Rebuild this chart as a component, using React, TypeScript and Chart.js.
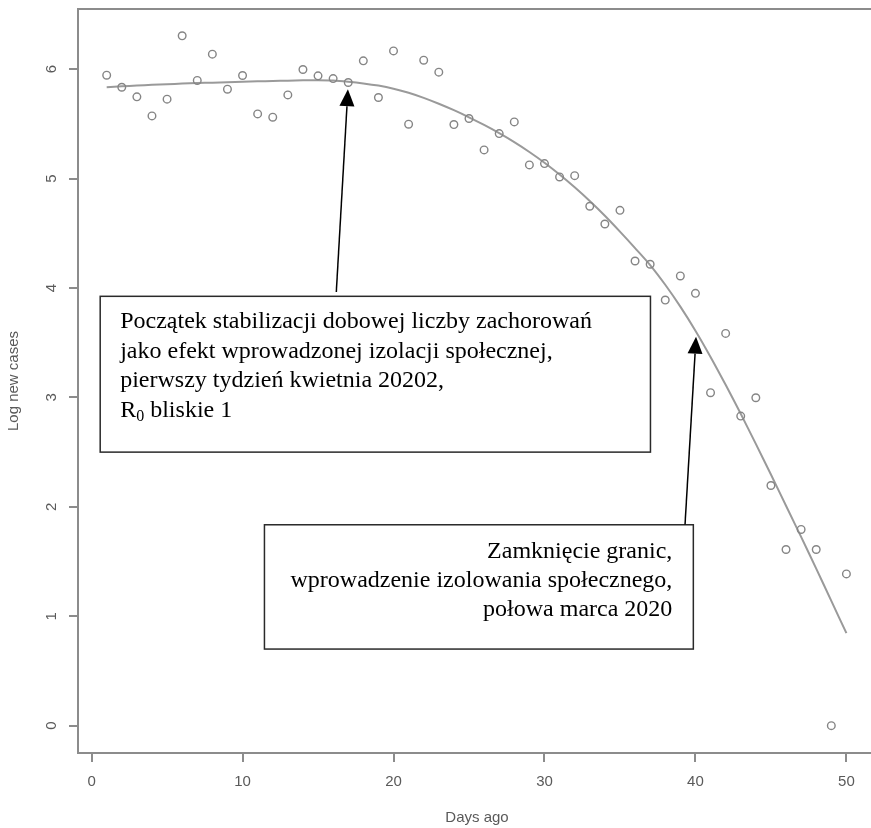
import React, { useEffect, useRef } from "react";
import { Chart, registerables } from "chart.js";

Chart.register(...registerables);

// ---------- data ----------
const DAYS = [
  1, 2, 3, 4, 5, 6, 7, 8, 9, 10, 11, 12, 13, 14, 15, 16, 17, 18, 19, 20, 21, 22, 23, 24, 25,
  26, 27, 28, 29, 30, 31, 32, 33, 34, 35, 36, 37, 38, 39, 40, 41, 42, 43, 44, 45, 46, 47, 48, 49, 50,
];

const LOG_NEW_CASES = [
  5.945, 5.835, 5.747, 5.573, 5.726, 6.305, 5.897, 6.137, 5.817, 5.942,
  5.591, 5.561, 5.765, 5.997, 5.939, 5.914, 5.878, 6.076, 5.741, 6.167,
  5.497, 6.082, 5.973, 5.494, 5.549, 5.262, 5.411, 5.518, 5.125, 5.137,
  5.015, 5.027, 4.747, 4.585, 4.71, 4.247, 4.217, 3.89, 4.11, 3.951,
  3.043, 3.585, 2.829, 2.997, 2.195, 1.61, 1.793, 1.61, 0.0, 1.387,
];

const FITTED = [
  5.835, 5.843, 5.85, 5.857, 5.863, 5.868, 5.873, 5.877, 5.881, 5.885,
  5.889, 5.892, 5.895, 5.898, 5.899, 5.896, 5.885, 5.87, 5.85, 5.822,
  5.785, 5.738, 5.684, 5.625, 5.56, 5.49, 5.415, 5.333, 5.243, 5.145,
  5.037, 4.92, 4.795, 4.66, 4.515, 4.365, 4.21, 4.03, 3.83, 3.61,
  3.37, 3.115, 2.85, 2.575, 2.295, 2.01, 1.725, 1.435, 1.14, 0.845,
];

const X_TICKS = [0, 10, 20, 30, 40, 50];
const Y_TICKS = [0, 1, 2, 3, 4, 5, 6];
const X_TITLE = "Days ago";
const Y_TITLE = "Log new cases";

const NOTE_1_LINES = [
  "Początek stabilizacji dobowej liczby zachorowań",
  "jako efekt wprowadzonej izolacji społecznej,",
  "pierwszy tydzień kwietnia 20202,",
];
const NOTE_1_LAST = { main: "R", sub: "0", rest: " bliskie 1" };
const NOTE_2_LINES = [
  "Zamknięcie granic,",
  "wprowadzenie izolowania społecznego,",
  "połowa marca 2020",
];

// annotation anchors in data coordinates
const NOTE_1_BOX = { x0: 0.57, x1: 37.02, yTop: 3.924, yBottom: 2.5 };
const NOTE_2_BOX = { x0: 11.45, x1: 39.86, yTop: 1.836, yBottom: 0.7 };
const ARROW_1 = { fromX: 16.21, fromY: 3.963, toX: 16.98, toY: 5.817 };
const ARROW_2 = { fromX: 39.31, fromY: 1.838, toX: 40.04, toY: 3.555 };

// ---------- styles ----------
const AXIS_GREY = "#8c8c8c";
const LABEL_GREY = "#5a5a5a";
const SANS = '"Liberation Sans", Arial, sans-serif';
const SERIF = '"Liberation Serif", "Times New Roman", serif';

function drawArrow(ctx: CanvasRenderingContext2D, x1: number, y1: number, x2: number, y2: number) {
  const ang = Math.atan2(y2 - y1, x2 - x1);
  const headLen = 17;
  const halfW = 7.5;
  const bx = x2 - headLen * Math.cos(ang);
  const by = y2 - headLen * Math.sin(ang);
  ctx.strokeStyle = "#000";
  ctx.lineWidth = 1.5;
  ctx.beginPath();
  ctx.moveTo(x1, y1);
  ctx.lineTo(bx, by);
  ctx.stroke();
  ctx.fillStyle = "#000";
  ctx.beginPath();
  ctx.moveTo(x2, y2);
  ctx.lineTo(bx + halfW * Math.sin(ang), by - halfW * Math.cos(ang));
  ctx.lineTo(bx - halfW * Math.sin(ang), by + halfW * Math.cos(ang));
  ctx.closePath();
  ctx.fill();
}

const notesPlugin = {
  id: "notes",
  afterDraw(chart: any) {
    const { ctx, chartArea } = chart;
    const xs = chart.scales.x;
    const ys = chart.scales.y;
    ctx.save();
    // plot frame
    ctx.strokeStyle = AXIS_GREY;
    ctx.lineWidth = 2;
    ctx.strokeRect(chartArea.left, chartArea.top, chartArea.right - chartArea.left, chartArea.bottom - chartArea.top);

    // boxes
    const box = (b: any) => {
      const l = xs.getPixelForValue(b.x0);
      const r = xs.getPixelForValue(b.x1);
      const t = ys.getPixelForValue(b.yTop);
      const bt = ys.getPixelForValue(b.yBottom);
      ctx.fillStyle = "#fff";
      ctx.fillRect(l, t, r - l, bt - t);
      ctx.strokeStyle = "#2a2a2a";
      ctx.lineWidth = 1.5;
      ctx.strokeRect(l, t, r - l, bt - t);
      return { l, r, t, bt };
    };
    const b1 = box(NOTE_1_BOX);
    const b2 = box(NOTE_2_BOX);

    ctx.fillStyle = "#000";
    ctx.font = `24px ${SERIF}`;
    ctx.textBaseline = "alphabetic";
    ctx.textAlign = "left";
    NOTE_1_LINES.forEach((line, i) => {
      ctx.fillText(line, b1.l + 20, b1.t + 32 + i * 29.4);
    });
    const y4 = b1.t + 32 + 3 * 29.4;
    let cx = b1.l + 20;
    ctx.fillText(NOTE_1_LAST.main, cx, y4);
    cx += ctx.measureText(NOTE_1_LAST.main).width;
    ctx.font = `16px ${SERIF}`;
    ctx.fillText(NOTE_1_LAST.sub, cx, y4 + 4);
    cx += ctx.measureText(NOTE_1_LAST.sub).width;
    ctx.font = `24px ${SERIF}`;
    ctx.fillText(NOTE_1_LAST.rest, cx, y4);

    ctx.textAlign = "right";
    NOTE_2_LINES.forEach((line, i) => {
      ctx.fillText(line, b2.r - 21, b2.t + 33 + i * 29.3);
    });

    drawArrow(ctx, xs.getPixelForValue(ARROW_1.fromX), ys.getPixelForValue(ARROW_1.fromY),
      xs.getPixelForValue(ARROW_1.toX), ys.getPixelForValue(ARROW_1.toY));
    drawArrow(ctx, xs.getPixelForValue(ARROW_2.fromX), ys.getPixelForValue(ARROW_2.fromY),
      xs.getPixelForValue(ARROW_2.toX), ys.getPixelForValue(ARROW_2.toY));
    ctx.restore();
  },
};

export default function App() {
  const ref = useRef<HTMLCanvasElement | null>(null);

  useEffect(() => {
    if (!ref.current) return;
    const points = DAYS.map((d, i) => ({ x: d, y: LOG_NEW_CASES[i] }));
    const fit = DAYS.map((d, i) => ({ x: d, y: FITTED[i] }));
    const tickFont = { family: SANS, size: 15 };
    const chart = new Chart(ref.current, {
      type: "scatter",
      data: {
        datasets: [
          {
            label: "observed",
            data: points,
            showLine: false,
            pointStyle: "circle",
            pointRadius: 3.8,
            pointBorderWidth: 1.4,
            pointBorderColor: "#858585",
            pointBackgroundColor: "rgba(0,0,0,0)",
          },
          {
            label: "fit",
            data: fit,
            showLine: true,
            pointRadius: 0,
            borderColor: "#9a9a9a",
            borderWidth: 2,
            tension: 0.3,
            fill: false,
          },
        ],
      },
      options: {
        responsive: false,
        animation: false,
        layout: { padding: { top: 9, right: 9, left: 0, bottom: 0 } },
        plugins: { legend: { display: false }, tooltip: { enabled: false } },
        scales: {
          x: {
            type: "linear",
            min: -0.9,
            max: 51.96,
            afterBuildTicks: (s: any) => {
              s.ticks = X_TICKS.map((value) => ({ value }));
            },
            afterFit: (s: any) => {
              s.height = 75;
              s.paddingLeft = 0;
              s.paddingRight = 0;
            },
            grid: { drawOnChartArea: false, drawTicks: true, tickLength: 9, color: AXIS_GREY, lineWidth: 2 },
            border: { display: false },
            ticks: { color: LABEL_GREY, font: tickFont, padding: 11, maxRotation: 0, autoSkip: false },
            title: { display: true, text: X_TITLE, color: LABEL_GREY, font: tickFont, padding: { top: 0, bottom: 1 } },
          },
          y: {
            type: "linear",
            min: -0.25,
            max: 6.55,
            afterBuildTicks: (s: any) => {
              s.ticks = Y_TICKS.map((value) => ({ value }));
            },
            afterFit: (s: any) => {
              s.width = 78;
              s.paddingTop = 0;
              s.paddingBottom = 0;
            },
            grid: { drawOnChartArea: false, drawTicks: true, tickLength: 9, color: AXIS_GREY, lineWidth: 2 },
            border: { display: false },
            ticks: {
              color: LABEL_GREY,
              font: tickFont,
              padding: 13,
              minRotation: 90,
              maxRotation: 90,
              crossAlign: "center",
              autoSkip: false,
            },
            title: { display: true, text: Y_TITLE, color: LABEL_GREY, font: tickFont, padding: { top: 5, bottom: 0 } },
          },
        },
      },
      plugins: [notesPlugin],
    } as any);
    return () => chart.destroy();
  }, []);

  return (
    <div style={{ position: "fixed", left: 0, top: 0, width: 871, height: 828, overflow: "hidden", background: "#fff" }}>
      <canvas ref={ref} width={885} height={828} style={{ display: "block", width: 885, height: 828 }} />
    </div>
  );
}
